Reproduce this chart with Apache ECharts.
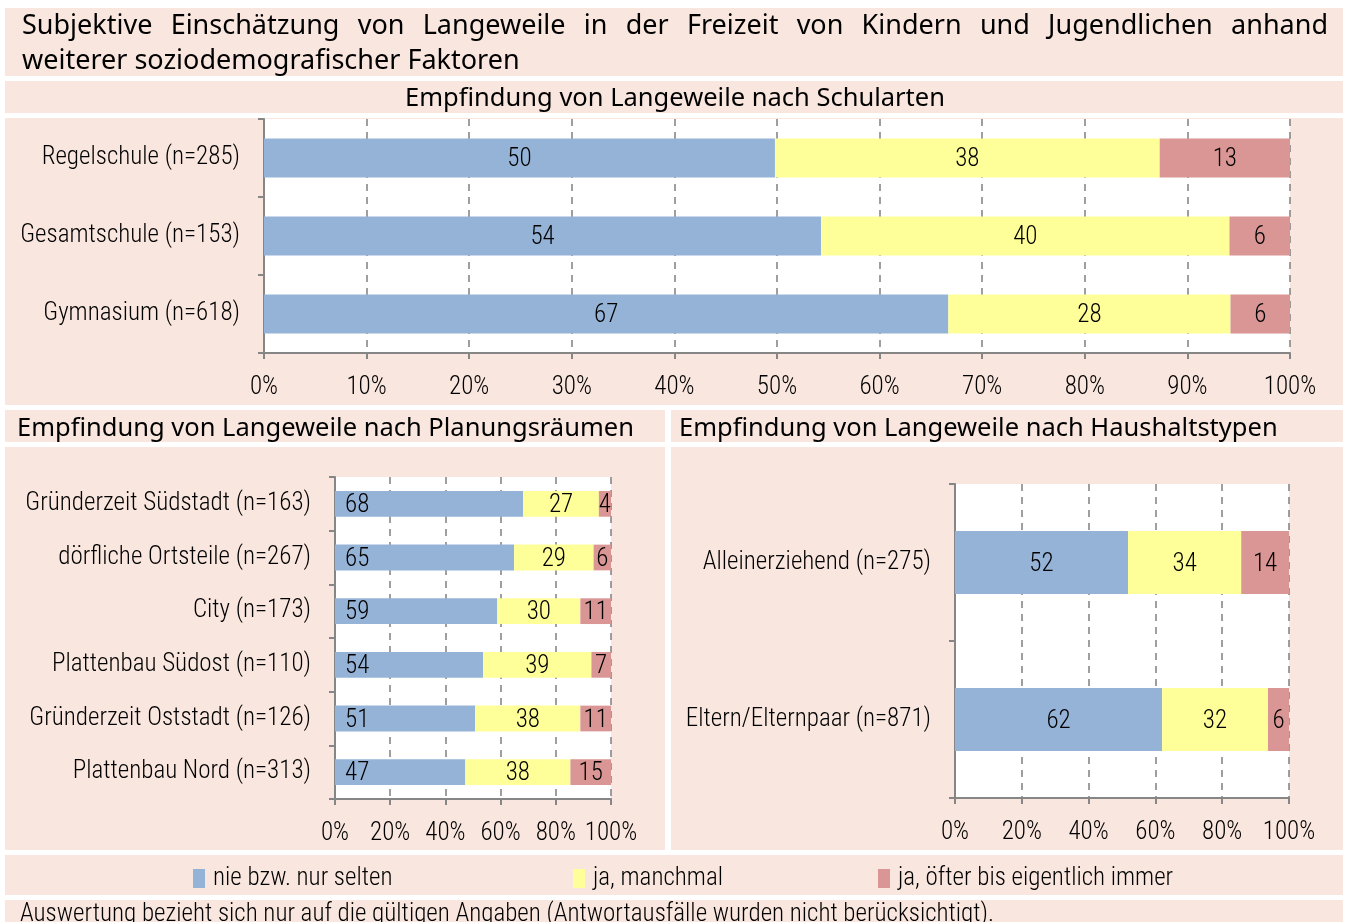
<!DOCTYPE html>
<html>
<head>
<meta charset="utf-8">
<title>Langeweile in der Freizeit</title>
<script src="https://cdn.jsdelivr.net/npm/echarts@6/dist/echarts.min.js"></script>
<style>
  html, body { margin: 0; padding: 0; background: #fff; }
  #chart { width: 1345px; height: 922px; }
</style>
</head>
<body>
<div id="chart"></div>
<script>
// Kategorien und Werte (Anteile in %)
const seriesNames = ['nie bzw. nur selten', 'ja, manchmal', 'ja, öfter bis eigentlich immer']

const schulCats = ['Regelschule (n=285)', 'Gesamtschule (n=153)', 'Gymnasium (n=618)']
const schulNie = [49.8, 54.3, 66.7]
const schulManchmal = [37.5, 39.8, 27.5]
const schulOefter = [12.7, 5.9, 5.8]

const raumCats = [
  'Gründerzeit Südstadt (n=163)',
  'dörfliche Ortsteile (n=267)',
  'City (n=173)',
  'Plattenbau Südost (n=110)',
  'Gründerzeit Oststadt (n=126)',
  'Plattenbau Nord (n=313)'
]
const raumNie = [68.2, 64.9, 58.8, 53.7, 50.8, 47.2]
const raumManchmal = [27.4, 28.8, 30.1, 39.2, 38.1, 38.1]
const raumOefter = [4.4, 6.3, 11.1, 7.1, 11.1, 14.7]

const haushaltCats = ['Alleinerziehend (n=275)', 'Eltern/Elternpaar (n=871)']
const haushaltNie = [51.8, 62.0]
const haushaltManchmal = [33.9, 31.7]
const haushaltOefter = [14.3, 6.3]

const colors = ['#95b3d7', '#ffff99', '#da9694']
const pink = '#f9e6de'
const narrow = '"Roboto Condensed", "Open Sans", sans-serif'
const headFont = '"Noto Sans", sans-serif'
const fs = 25

const titleLine1 = 'Subjektive Einschätzung von Langeweile in der Freizeit von Kindern und Jugendlichen anhand'
const titleLine2 = 'weiterer soziodemografischer Faktoren'
const footnote = 'Auswertung bezieht sich nur auf die gültigen Angaben (Antwortausfälle wurden nicht berücksichtigt).'

// erste Titelzeile im Blocksatz: Wörter einzeln setzen
function justifiedWords (text, x0, x1, y, font) {
  let ctx = document.createElement('canvas').getContext('2d')
  ctx.font = font
  let words = text.split(' ')
  let total = 0
  words.forEach(w => { total += ctx.measureText(w).width })
  let gap = (x1 - x0 - total) / (words.length - 1)
  let x = x0
  return words.map(w => {
    let el = {
      type: 'text', x: x, y: y, z: 5,
      style: { text: w, font: font, fill: '#000', textVerticalAlign: 'middle' }
    }
    x += ctx.measureText(w).width + gap
    return el
  })
}

function box (x, y, w, h) {
  return { type: 'rect', z: -10, shape: { x: x, y: y, width: w, height: h }, style: { fill: pink } }
}

function xAxisFor (gridIndex, interval) {
  return {
    type: 'value', gridIndex: gridIndex, min: 0, max: 100, interval: interval,
    axisLine: { show: true, lineStyle: { color: '#868686', width: 2 } },
    axisTick: { show: true, length: 6, lineStyle: { color: '#868686', width: 2 } },
    axisLabel: { formatter: '{value}%', color: '#000', fontSize: fs, fontFamily: narrow, fontWeight: 300, margin: 22 },
    splitLine: { show: true, lineStyle: { color: '#808080', type: [7, 6], width: 1.5 } }
  }
}

function yAxisFor (gridIndex, cats) {
  return {
    type: 'category', gridIndex: gridIndex, data: cats, inverse: true,
    axisLine: { show: true, lineStyle: { color: '#868686', width: 2 } },
    axisTick: { show: true, length: 6, lineStyle: { color: '#868686', width: 2 } },
    axisLabel: { color: '#000', fontSize: fs, fontFamily: narrow, fontWeight: 300, margin: 24, padding: [5, 0, 0, 0] }
  }
}

function barSeries (idx, data, name, gap, pos, dist) {
  return {
    type: 'bar', name: name, stack: 'g' + idx, xAxisIndex: idx, yAxisIndex: idx,
    data: data, barCategoryGap: gap,
    itemStyle: { color: colors[seriesNames.indexOf(name)] },
    label: {
      show: true, position: pos || 'inside', distance: dist || 5, offset: [0, 2],
      color: '#000', fontSize: fs, fontFamily: narrow, fontWeight: 300,
      formatter: p => Math.round(p.value)
    },
    emphasis: { disabled: true }
  }
}

function legendFor (i, left) {
  return {
    data: [seriesNames[i]], left: left, top: 866, itemWidth: 12, itemHeight: 19, itemGap: 0,
    icon: 'rect', selectedMode: false, padding: 0,
    textStyle: { fontSize: fs, fontFamily: narrow, fontWeight: 300, color: '#000', padding: [0, 0, 0, 3] }
  }
}

const titleFont = '27px ' + headFont
const subFont = '25.5px ' + headFont

const option = {
  animation: false,
  backgroundColor: '#fff',
  grid: [
    { left: 264, top: 119, width: 1026, height: 234, show: true, backgroundColor: '#fff', borderWidth: 0 },
    { left: 335, top: 477, width: 276, height: 322, show: true, backgroundColor: '#fff', borderWidth: 0 },
    { left: 955, top: 484, width: 334, height: 314, show: true, backgroundColor: '#fff', borderWidth: 0 }
  ],
  xAxis: [xAxisFor(0, 10), xAxisFor(1, 20), xAxisFor(2, 20)],
  yAxis: [yAxisFor(0, schulCats), yAxisFor(1, raumCats), yAxisFor(2, haushaltCats)],
  legend: [legendFor(0, 193), legendFor(1, 573), legendFor(2, 878)],
  graphic: [
    box(5, 8, 1338, 68),
    box(5, 81, 1338, 32),
    box(5, 118, 1338, 287),
    box(5, 410, 660, 32),
    box(671, 410, 672, 32),
    box(5, 447, 660, 403),
    box(671, 447, 672, 403),
    box(5, 855, 1338, 40),
    box(5, 900, 1338, 30),
    ...justifiedWords(titleLine1, 22, 1328, 26, titleFont),
    { type: 'text', x: 22, y: 61, z: 5, style: { text: titleLine2, font: titleFont, fill: '#000', textVerticalAlign: 'middle' } },
    { type: 'text', x: 675, y: 99, z: 5, style: { text: 'Empfindung von Langeweile nach Schularten', font: subFont, fill: '#000', textAlign: 'center', textVerticalAlign: 'middle' } },
    { type: 'text', x: 17, y: 429, z: 5, style: { text: 'Empfindung von Langeweile nach Planungsräumen', font: subFont, fill: '#000', textVerticalAlign: 'middle' } },
    { type: 'text', x: 679, y: 429, z: 5, style: { text: 'Empfindung von Langeweile nach Haushaltstypen', font: subFont, fill: '#000', textVerticalAlign: 'middle' } },
    { type: 'text', x: 20, y: 915, z: 5, style: { text: footnote, font: '300 25px ' + narrow, fill: '#000', textVerticalAlign: 'middle' } }
  ],
  series: [
    barSeries(0, schulNie, seriesNames[0], '50%'),
    barSeries(0, schulManchmal, seriesNames[1], '50%'),
    barSeries(0, schulOefter, seriesNames[2], '50%'),
    barSeries(1, raumNie, seriesNames[0], '52%', 'insideLeft', 10),
    barSeries(1, raumManchmal, seriesNames[1], '52%'),
    barSeries(1, raumOefter, seriesNames[2], '52%'),
    barSeries(2, haushaltNie, seriesNames[0], '60%'),
    barSeries(2, haushaltManchmal, seriesNames[1], '60%'),
    barSeries(2, haushaltOefter, seriesNames[2], '60%')
  ]
}

const chart = echarts.init(document.getElementById('chart'))
chart.setOption(option)
</script>
</body>
</html>
